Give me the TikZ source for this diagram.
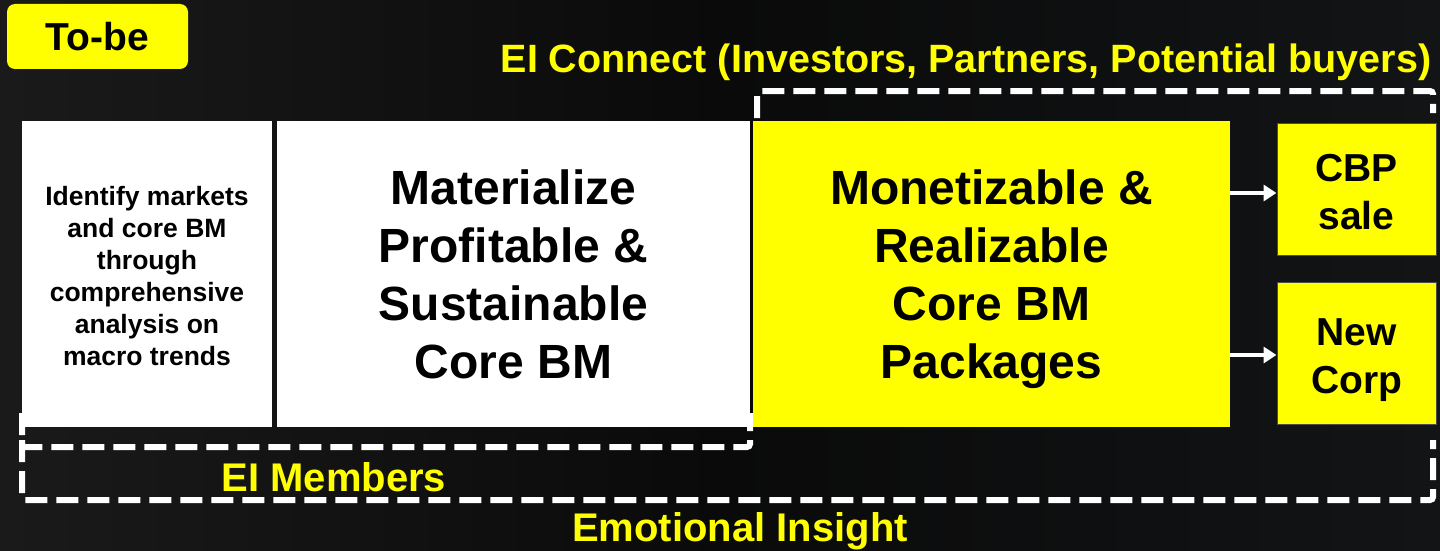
\documentclass[tikz,border=0pt]{standalone}
\usepackage{fontspec}
\setmainfont{Liberation Sans}
\usetikzlibrary{arrows.meta}
\definecolor{bgmid}{RGB}{10,10,10}
\definecolor{bgleft}{RGB}{26,26,26}
\definecolor{bgright}{RGB}{18,20,22}
\definecolor{ylw}{RGB}{255,255,0}
\tikzset{
  box/.style={inner sep=0pt, align=center, text=black},
  whitebox/.style={box, fill=white},
  ylwbox/.style={box, fill=ylw, draw=black!70, line width=1pt},
  dashline/.style={draw=white, line width=6pt, dash pattern=on 22pt off 9pt, rounded corners=3pt},
  lbl/.style={text=ylw, font=\fontsize{40}{46}\selectfont\bfseries, inner sep=0pt},
  arr/.style={draw=white, line width=4pt, -{Triangle[length=13pt,width=16pt]}},
  txt/.style={inner sep=0pt, align=center, text=black},
  small/.style={txt, font=\fontsize{26.5}{32}\selectfont\bfseries},
  big/.style={txt, font=\fontsize{48}{58}\selectfont\bfseries},
  mid/.style={txt, font=\fontsize{39}{48}\selectfont\bfseries},
}
\begin{document}
\begin{tikzpicture}[x=1pt,y=-1pt]
  % background
  \shade[left color=bgleft, right color=bgright, middle color=bgmid] (0,0) rectangle (1440,551);
  \useasboundingbox (0,0) rectangle (1440,551);
  % dashed frames (only the visible parts)
  \draw[dashline] (22,413) -- (22,447) -- (750,447) -- (750,413);
  \draw[dashline] (22,440) -- (22,500) -- (1433,500) -- (1433,440);
  \draw[dashline] (757,118) -- (757,91) -- (1433,91) -- (1433,113);
  % tag
  \node[box, fill=ylw, rounded corners=8pt, minimum width=181pt, minimum height=65pt,
        font=\fontsize{39}{44}\selectfont\bfseries] (tobe) at (97.5,36.5) {To-be};
  % boxes
  \node[whitebox, minimum width=250pt, minimum height=306pt] (ident) at (147,274) {};
  \node[small] (identtxt) at (147,276)
    {Identify markets\\and core BM\\through\\comprehensive\\analysis on\\macro trends};
  \node[whitebox, minimum width=473pt, minimum height=306pt] (mat) at (513.5,274) {};
  \node[big] (mattxt) at (513.5,274) {Materialize\\Profitable \&\\Sustainable\\Core BM};
  \node[box, fill=ylw, minimum width=477pt, minimum height=306pt] (mon) at (991.5,274) {};
  \node[big] (montxt) at (991.5,279) {Monetizable \&\\Realizable\\Core BM\\Packages};
  \node[ylwbox, minimum width=159pt, minimum height=132pt] (cbp) at (1356.5,189) {};
  \node[mid] (cbptxt) at (1356.5,192) {CBP\\sale};
  \node[ylwbox, minimum width=159pt, minimum height=142pt] (corp) at (1356.5,353) {};
  \node[mid] (corptxt) at (1356.5,360) {New\\Corp};
  % arrows
  \draw[arr] (mon.east |- 0,193) -- (cbp.west |- 0,193);
  \draw[arr] (mon.east |- 0,355) -- (corp.west |- 0,355);
  % labels
  \node[lbl, font=\fontsize{39.5}{46}\selectfont\bfseries] (conn) at (966,62) {EI Connect (Investors, Partners, Potential buyers)};
  \node[lbl] (mem) at (334,477) {EI Members};
  \node[lbl] (emo) at (740,531) {Emotional Insight};
\end{tikzpicture}
\end{document}
